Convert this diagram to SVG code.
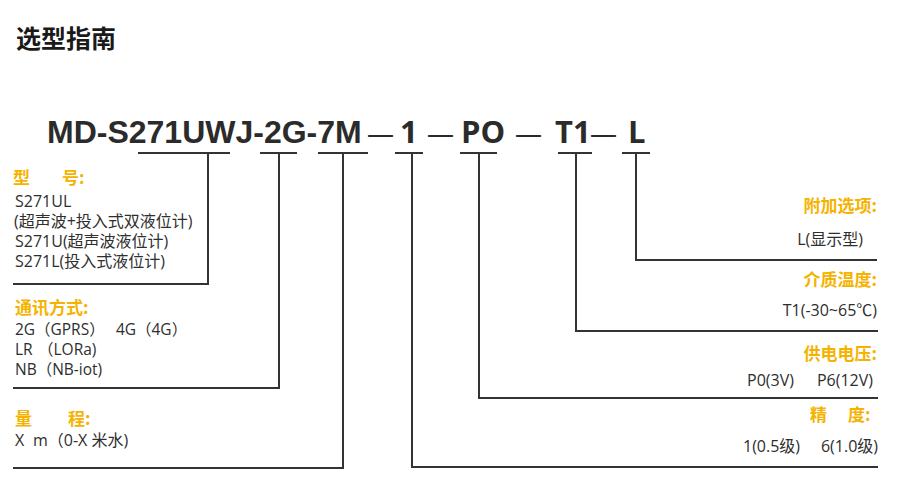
<svg xmlns="http://www.w3.org/2000/svg" width="900" height="489" viewBox="0 0 900 489">
<style>
.title{font-family:"Noto Sans CJK SC","Noto Sans",sans-serif;font-weight:700;font-size:25px;fill:#1a1a1a}
.code{font-family:"Liberation Sans","Noto Sans CJK SC",sans-serif;font-weight:700;font-size:32px;fill:#2b2b2b}
.code2{font-family:"Open Sans","Noto Sans CJK SC",sans-serif;font-weight:700;font-size:31px;fill:#2b2b2b}
.dash{font-family:"Open Sans",sans-serif;font-weight:400;font-size:27px;fill:#2b2b2b}
.hd{font-family:"Noto Sans CJK SC",sans-serif;font-weight:700;font-size:17px;fill:#f5b301}
.tx{font-family:"Open Sans","Noto Sans CJK SC",sans-serif;font-size:16px;fill:#2e2e2e}
.sm{font-size:15.5px}
.r{text-anchor:end}
.ln{fill:none;stroke:#333;stroke-width:2}
</style>
<rect width="900" height="489" fill="#fff"/>
<text class="title" x="16" y="48">选型指南</text>
<g id="code">
<text class="code" x="47" y="143">MD-S271UWJ-2G-7M</text>
<text class="dash" x="367" y="143">—</text>
<text class="code2" x="400" y="143">1</text>
<text class="dash" x="427" y="143">—</text>
<text class="code2" x="461" y="143">PO</text>
<text class="dash" x="515" y="143">—</text>
<text class="code2" x="555" y="143">T1</text>
<text class="dash" x="590" y="143">—</text>
<text class="code2" x="628" y="143">L</text>
</g>
<g id="connectors">
<path class="ln" d="M138 153H230M208 153V284H13"/>
<path class="ln" d="M260 153H297M279 153V388H13"/>
<path class="ln" d="M318 153H368M343 153V468H13"/>
<path class="ln" d="M395 153H423M412 153V467H878"/>
<path class="ln" d="M460 153H497M479 153V398H878"/>
<path class="ln" d="M558 153H592M576 153V331H878"/>
<path class="ln" d="M622 153H650M636 153V260H877"/>
</g>
<g id="model">
<text class="hd" x="13" y="184">型<tspan x="62">号:</tspan></text>
<text class="tx" x="15" y="207">S271UL</text>
<text class="tx" x="14" y="227">(超声波+投入式双液位计)</text>
<text class="tx" x="15" y="247">S271U(超声波液位计)</text>
<text class="tx" x="15" y="267">S271L(投入式液位计)</text>
</g>
<g id="comm">
<text class="hd" x="15" y="314">通讯方式:</text>
<text class="tx sm" x="15" y="335">2G<tspan x="35">（GPRS）</tspan><tspan x="116">4G</tspan><tspan x="136">（4G）</tspan></text>
<text class="tx sm" x="15" y="355">LR<tspan x="38">（LORa)</tspan></text>
<text class="tx sm" x="15" y="375">NB（NB-iot)</text>
</g>
<g id="range">
<text class="hd" x="15" y="425">量<tspan x="68">程:</tspan></text>
<text class="tx" x="15" y="446">X<tspan x="33">m（0-X 米水)</tspan></text>
</g>
<g id="extra">
<text class="hd r" x="877" y="212">附加选项:</text>
<text class="tx r" x="863" y="245">L(显示型)</text>
</g>
<g id="temp">
<text class="hd r" x="877" y="286">介质温度:</text>
<text class="tx r" x="877" y="316">T1(-30~65℃)</text>
</g>
<g id="power">
<text class="hd r" x="877" y="360">供电电压:</text>
<text class="tx" x="747" y="386">P0(3V)</text>
<text class="tx r" x="873" y="386">P6(12V)</text>
</g>
<g id="accuracy">
<text class="hd" x="810" y="421">精<tspan x="848">度:</tspan></text>
<text class="tx" x="743" y="452">1(0.5级)</text>
<text class="tx r" x="878" y="452">6(1.0级)</text>
</g>
</svg>
